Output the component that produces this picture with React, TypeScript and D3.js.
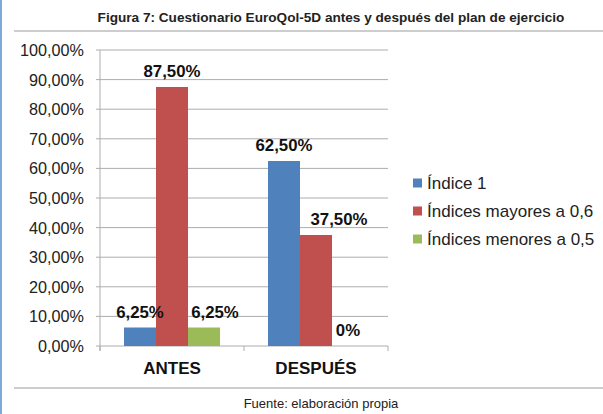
import React from "react";
import * as d3 from "d3";

const categories = ["ANTES", "DESPUÉS"];
const seriesNames = ["Índice 1", "Índices mayores a 0,6", "Índices menores a 0,5"];
const indice1 = [6.25, 62.5];
const mayores06 = [87.5, 37.5];
const menores05 = [6.25, 0];
const valueLabels = [
  ["6,25%", "62,50%"],
  ["87,50%", "37,50%"],
  ["6,25%", "0%"],
];
const yTicks = [0, 10, 20, 30, 40, 50, 60, 70, 80, 90, 100];
const colors = ["#4F81BD", "#C0504D", "#9BBB59"];
// manual label nudges (x, y) per series/category, as in the reference
const labelNudge = [
  [[0, 0], [0, 0]],
  [[0, 0], [23, 0]],
  [[11, 0], [0, 0]],
];

const W = 603;
const H = 414;
const FONT = "'Liberation Sans', Arial, sans-serif";

export default function App() {
  const series = [indice1, mayores06, menores05];
  const x0 = d3.scaleBand<string>().domain(categories).range([100, 388]).paddingInner(0.3333).paddingOuter(0.1667);
  const x1 = d3.scaleBand<number>().domain([0, 1, 2]).range([0, x0.bandwidth()]);
  const y = d3.scaleLinear().domain([0, 100]).range([346, 50]);

  const fmt = (v: number) => d3.format(".2f")(v).replace(".", ",") + "%";

  return (
    <svg width={W} height={H} style={{ position: "absolute", left: 0, top: 0, background: "#fff" }} fontFamily={FONT}>
      <rect x={0} y={0} width={W} height={H} fill="#fff" />
      <rect x={0} y={0} width={2} height={H} fill="#7fa9db" />
      <text x={331} y={22} textAnchor="middle" fontSize={13.6} fontWeight="bold" fill="#222">
        Figura 7: Cuestionario EuroQol-5D antes y después del plan de ejercicio
      </text>
      <line x1={14} x2={W} y1={31} y2={31} stroke="#bdbdbd" strokeWidth={1.5} />
      <line x1={14} x2={W} y1={388} y2={388} stroke="#bdbdbd" strokeWidth={1.5} />

      {/* gridlines and y axis */}
      {yTicks.map((t) => (
        <g key={t}>
          <line x1={96} x2={388} y1={y(t)} y2={y(t)} stroke="#adadad" strokeWidth={1} />
          <text x={84} y={y(t) + 6} textAnchor="end" fontSize={16.2} fill="#222">
            {fmt(t)}
          </text>
        </g>
      ))}
      <line x1={100} x2={100} y1={y(100)} y2={y(0) + 5} stroke="#adadad" />
      {[0, 1, 2].map((i) => (
        <line key={i} x1={100 + i * 144} x2={100 + i * 144} y1={y(0)} y2={y(0) + 5} stroke="#adadad" />
      ))}

      {/* bars */}
      {series.map((vals, si) =>
        vals.map((v, ci) => {
          const bx = (x0(categories[ci]) as number) + (x1(si) as number);
          return (
            <rect key={`${si}-${ci}`} x={bx} y={y(v)} width={x1.bandwidth()} height={y(0) - y(v)} fill={colors[si]} />
          );
        })
      )}

      {/* value labels */}
      {series.map((vals, si) =>
        vals.map((v, ci) => {
          const bx = (x0(categories[ci]) as number) + (x1(si) as number) + x1.bandwidth() / 2;
          const [dx, dy] = labelNudge[si][ci];
          return (
            <text key={`l${si}-${ci}`} x={bx + dx} y={y(v) - 10 + dy} textAnchor="middle" fontSize={16.8} fontWeight="bold" fill="#111">
              {valueLabels[si][ci]}
            </text>
          );
        })
      )}

      {/* category labels */}
      {categories.map((c) => (
        <text key={c} x={(x0(c) as number) + x0.bandwidth() / 2} y={374} textAnchor="middle" fontSize={17} fontWeight="bold" fill="#111">
          {c}
        </text>
      ))}

      {/* legend */}
      {seriesNames.map((n, i) => (
        <g key={n} transform={`translate(413, ${183 + i * 28})`}>
          <rect x={0} y={-4.5} width={9} height={9} fill={colors[i]} />
          <text x={14} y={6} fontSize={17} fill="#222">
            {n}
          </text>
        </g>
      ))}

      <text x={321} y={408} textAnchor="middle" fontSize={13} fill="#222">
        Fuente: elaboración propia
      </text>
    </svg>
  );
}
